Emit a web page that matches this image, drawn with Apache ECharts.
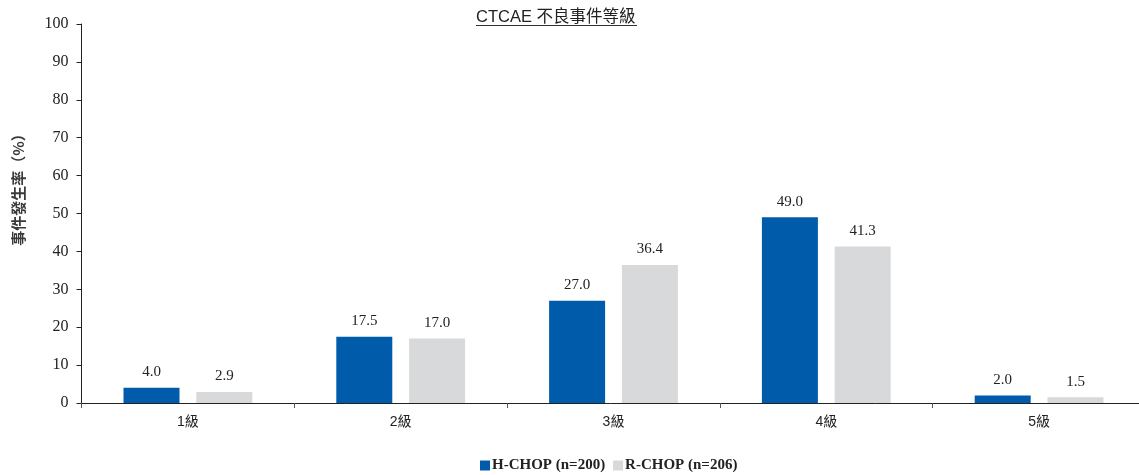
<!DOCTYPE html>
<html><head><meta charset="utf-8">
<script src="https://cdn.jsdelivr.net/npm/echarts@6/dist/echarts.min.js"></script>
<style>html,body{margin:0;padding:0;background:#fff}#c{width:1139px;height:475px}</style>
</head><body><div id="c"></div>
<script>
const categories = ['1級','2級','3級','4級','5級'];
const hchop = [4.0, 17.5, 27.0, 49.0, 2.0];
const rchop = [2.9, 17.0, 36.4, 41.3, 1.5];
const seriesNames = ['H-CHOP (n=200)', 'R-CHOP (n=206)'];
const titleText = 'CTCAE 不良事件等級';
const yName = '事件發生率（%）';

const chart = echarts.init(document.getElementById('c'));
const serif = '"Liberation Serif", "Times New Roman", serif';
const sans = '"Liberation Sans", Arial, "Noto Sans CJK TC", sans-serif';
const lbl = {show:true, position:'top', distance:8, color:'#222', fontFamily:serif, fontSize:15, formatter: p => p.value.toFixed(1)};
chart.setOption({
  animation:false,
  title:{text:titleText, left:476, top:9, padding:0, textStyle:{fontFamily:sans, fontSize:16.5, fontWeight:'normal', color:'#222'}},
  graphic:[
    {type:'line', shape:{x1:476, y1:25.5, x2:637, y2:25.5}, style:{stroke:'#333', lineWidth:1}},
    {type:'text', x:18, y:186, rotation:Math.PI/2,
     style:{text:yName, fontFamily:'"Noto Sans CJK TC", sans-serif', fontSize:15, fontWeight:'bold', fill:'#3a3a3a', align:'center', verticalAlign:'middle'}}
  ],
  legend:{top:458, left:480, padding:0, itemWidth:10, itemHeight:10, itemGap:8, icon:'rect',
    textStyle:{fontFamily:serif, fontWeight:'bold', fontSize:15, color:'#222', padding:[0,0,0,-3]}, data:seriesNames},
  grid:{left:81.5, width:1064, top:24, bottom:72, outerBoundsMode:'none', containLabel:false},
  xAxis:{type:'category', data:categories,
    axisLine:{lineStyle:{color:'#222'}}, axisTick:{show:true, length:5, lineStyle:{color:'#555'}},
    axisLabel:{fontFamily:sans, fontSize:14, color:'#222', margin:12}},
  yAxis:{type:'value', min:0, max:100, interval:10,
    axisLine:{show:true, lineStyle:{color:'#222'}}, axisTick:{show:true, length:5, lineStyle:{color:'#222'}},
    splitLine:{show:false}, axisLabel:{fontFamily:serif, fontSize:16, color:'#222', margin:13}},
  series:[
    {name:seriesNames[0], type:'bar', data:hchop, barWidth:56, barGap:'30%', itemStyle:{color:'#005BAA'}, label:lbl},
    {name:seriesNames[1], type:'bar', data:rchop, barWidth:56, itemStyle:{color:'#D8D9DB'}, label:lbl}
  ]
});
</script></body></html>
